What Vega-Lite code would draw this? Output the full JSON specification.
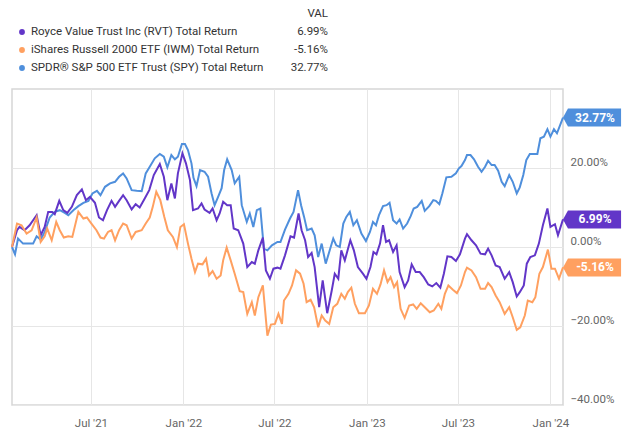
{
  "$schema": "https://vega.github.io/schema/vega-lite/v6.json",
  "padding": {"left": 7, "top": 5, "right": 0, "bottom": 0},
  "spacing": 11,
  "config": {
    "font": "Roboto",
    "view": {"stroke": null},
    "axis": {"labelFont": "Roboto", "titleFont": "Roboto"},
    "text": {"font": "Roboto"}
  },
  "datasets": {
    "ends": [
      {"series": "RVT", "name": "Royce Value Trust Inc (RVT) Total Return", "date": "2024-01-26", "value": 6.99, "label": "6.99%"},
      {"series": "IWM", "name": "iShares Russell 2000 ETF (IWM) Total Return", "date": "2024-01-26", "value": -5.16, "label": "-5.16%"},
      {"series": "SPY", "name": "SPDR® S&P 500 ETF Trust (SPY) Total Return", "date": "2024-01-26", "value": 32.77, "label": "32.77%"}
    ],
    "series": [
      {"series":"SPY","date":"2021-01-25","value":0},
      {"series":"SPY","date":"2021-01-31","value":-1.85},
      {"series":"SPY","date":"2021-02-06","value":2.13},
      {"series":"SPY","date":"2021-02-16","value":0.86},
      {"series":"SPY","date":"2021-02-26","value":0.86},
      {"series":"SPY","date":"2021-03-08","value":0.86},
      {"series":"SPY","date":"2021-03-15","value":2.72},
      {"series":"SPY","date":"2021-03-23","value":1.88},
      {"series":"SPY","date":"2021-03-31","value":3.81},
      {"series":"SPY","date":"2021-04-10","value":7.47},
      {"series":"SPY","date":"2021-04-20","value":8.89},
      {"series":"SPY","date":"2021-04-30","value":9.32},
      {"series":"SPY","date":"2021-05-10","value":8.64},
      {"series":"SPY","date":"2021-05-17","value":8.05},
      {"series":"SPY","date":"2021-05-27","value":9.32},
      {"series":"SPY","date":"2021-06-06","value":10.34},
      {"series":"SPY","date":"2021-06-16","value":11.18},
      {"series":"SPY","date":"2021-06-26","value":11.68},
      {"series":"SPY","date":"2021-07-04","value":13.56},
      {"series":"SPY","date":"2021-07-13","value":14.22},
      {"series":"SPY","date":"2021-07-20","value":13.13},
      {"series":"SPY","date":"2021-07-29","value":15.24},
      {"series":"SPY","date":"2021-08-08","value":16.1},
      {"series":"SPY","date":"2021-08-18","value":16.51},
      {"series":"SPY","date":"2021-08-26","value":17.78},
      {"series":"SPY","date":"2021-09-03","value":18.64},
      {"series":"SPY","date":"2021-09-10","value":17.37},
      {"series":"SPY","date":"2021-09-20","value":14.4},
      {"series":"SPY","date":"2021-09-30","value":14.22},
      {"series":"SPY","date":"2021-10-10","value":14.15},
      {"series":"SPY","date":"2021-10-18","value":18.64},
      {"series":"SPY","date":"2021-10-26","value":20.32},
      {"series":"SPY","date":"2021-11-05","value":22.45},
      {"series":"SPY","date":"2021-11-15","value":23.55},
      {"series":"SPY","date":"2021-11-23","value":22.86},
      {"series":"SPY","date":"2021-11-30","value":20.17},
      {"series":"SPY","date":"2021-12-08","value":23.29},
      {"series":"SPY","date":"2021-12-15","value":22.2},
      {"series":"SPY","date":"2021-12-21","value":22.86},
      {"series":"SPY","date":"2021-12-29","value":26.09},
      {"series":"SPY","date":"2022-01-04","value":26.09},
      {"series":"SPY","date":"2022-01-10","value":24.56},
      {"series":"SPY","date":"2022-01-17","value":21.18},
      {"series":"SPY","date":"2022-01-21","value":17.5},
      {"series":"SPY","date":"2022-01-27","value":15.42},
      {"series":"SPY","date":"2022-02-03","value":19.48},
      {"series":"SPY","date":"2022-02-12","value":19.05},
      {"series":"SPY","date":"2022-02-19","value":17.78},
      {"series":"SPY","date":"2022-02-26","value":13.56},
      {"series":"SPY","date":"2022-03-04","value":10.59},
      {"series":"SPY","date":"2022-03-11","value":12.7},
      {"series":"SPY","date":"2022-03-18","value":14.9},
      {"series":"SPY","date":"2022-03-23","value":19.48},
      {"series":"SPY","date":"2022-03-29","value":22.2},
      {"series":"SPY","date":"2022-04-07","value":19.48},
      {"series":"SPY","date":"2022-04-13","value":16.1},
      {"series":"SPY","date":"2022-04-22","value":17.78},
      {"series":"SPY","date":"2022-04-27","value":10.59},
      {"series":"SPY","date":"2022-05-07","value":6.35},
      {"series":"SPY","date":"2022-05-13","value":8.48},
      {"series":"SPY","date":"2022-05-20","value":5.08},
      {"series":"SPY","date":"2022-05-27","value":9.32},
      {"series":"SPY","date":"2022-06-03","value":9.75},
      {"series":"SPY","date":"2022-06-10","value":-0.41},
      {"series":"SPY","date":"2022-06-17","value":-0.84},
      {"series":"SPY","date":"2022-06-26","value":0.43},
      {"series":"SPY","date":"2022-07-07","value":1.27},
      {"series":"SPY","date":"2022-07-13","value":1.27},
      {"series":"SPY","date":"2022-07-22","value":4.42},
      {"series":"SPY","date":"2022-08-01","value":7.21},
      {"series":"SPY","date":"2022-08-08","value":8.89},
      {"series":"SPY","date":"2022-08-17","value":14.4},
      {"series":"SPY","date":"2022-08-23","value":10.59},
      {"series":"SPY","date":"2022-08-29","value":7.62},
      {"series":"SPY","date":"2022-09-04","value":4.24},
      {"series":"SPY","date":"2022-09-13","value":4.67},
      {"series":"SPY","date":"2022-09-19","value":2.97},
      {"series":"SPY","date":"2022-09-26","value":-2.54},
      {"series":"SPY","date":"2022-10-03","value":0.86},
      {"series":"SPY","date":"2022-10-11","value":-4.22},
      {"series":"SPY","date":"2022-10-19","value":-0.84},
      {"series":"SPY","date":"2022-10-26","value":2.13},
      {"series":"SPY","date":"2022-11-01","value":0.43},
      {"series":"SPY","date":"2022-11-08","value":0},
      {"series":"SPY","date":"2022-11-15","value":5.94},
      {"series":"SPY","date":"2022-11-21","value":7.62},
      {"series":"SPY","date":"2022-11-28","value":8.89},
      {"series":"SPY","date":"2022-12-05","value":5.51},
      {"series":"SPY","date":"2022-12-12","value":6.78},
      {"series":"SPY","date":"2022-12-21","value":3.4},
      {"series":"SPY","date":"2022-12-30","value":1.52},
      {"series":"SPY","date":"2023-01-07","value":3.81},
      {"series":"SPY","date":"2023-01-13","value":6.35},
      {"series":"SPY","date":"2023-01-19","value":5.51},
      {"series":"SPY","date":"2023-01-25","value":8.05},
      {"series":"SPY","date":"2023-02-02","value":10.34},
      {"series":"SPY","date":"2023-02-09","value":10.59},
      {"series":"SPY","date":"2023-02-15","value":11.18},
      {"series":"SPY","date":"2023-02-22","value":6.78},
      {"series":"SPY","date":"2023-03-01","value":5.94},
      {"series":"SPY","date":"2023-03-07","value":6.96},
      {"series":"SPY","date":"2023-03-14","value":4.67},
      {"series":"SPY","date":"2023-03-22","value":5.94},
      {"series":"SPY","date":"2023-03-29","value":7.8},
      {"series":"SPY","date":"2023-04-04","value":9.75},
      {"series":"SPY","date":"2023-04-11","value":10.16},
      {"series":"SPY","date":"2023-04-20","value":11.68},
      {"series":"SPY","date":"2023-04-26","value":9.14},
      {"series":"SPY","date":"2023-05-05","value":10.34},
      {"series":"SPY","date":"2023-05-13","value":11.86},
      {"series":"SPY","date":"2023-05-18","value":11.68},
      {"series":"SPY","date":"2023-05-25","value":10.85},
      {"series":"SPY","date":"2023-05-31","value":13.56},
      {"series":"SPY","date":"2023-06-08","value":17.63},
      {"series":"SPY","date":"2023-06-18","value":17.78},
      {"series":"SPY","date":"2023-06-27","value":18.64},
      {"series":"SPY","date":"2023-07-03","value":19.91},
      {"series":"SPY","date":"2023-07-08","value":20.5},
      {"series":"SPY","date":"2023-07-15","value":22.02},
      {"series":"SPY","date":"2023-07-19","value":23.29},
      {"series":"SPY","date":"2023-07-26","value":23.29},
      {"series":"SPY","date":"2023-08-02","value":22.2},
      {"series":"SPY","date":"2023-08-10","value":20.32},
      {"series":"SPY","date":"2023-08-17","value":19.05},
      {"series":"SPY","date":"2023-08-24","value":20.32},
      {"series":"SPY","date":"2023-08-30","value":21.84},
      {"series":"SPY","date":"2023-09-06","value":20.75},
      {"series":"SPY","date":"2023-09-12","value":20.75},
      {"series":"SPY","date":"2023-09-19","value":19.3},
      {"series":"SPY","date":"2023-09-26","value":16.51},
      {"series":"SPY","date":"2023-10-02","value":15.42},
      {"series":"SPY","date":"2023-10-11","value":18.21},
      {"series":"SPY","date":"2023-10-18","value":16.51},
      {"series":"SPY","date":"2023-10-26","value":13.56},
      {"series":"SPY","date":"2023-11-01","value":15.09},
      {"series":"SPY","date":"2023-11-08","value":18.21},
      {"series":"SPY","date":"2023-11-14","value":22.02},
      {"series":"SPY","date":"2023-11-21","value":23.55},
      {"series":"SPY","date":"2023-11-29","value":23.55},
      {"series":"SPY","date":"2023-12-06","value":23.55},
      {"series":"SPY","date":"2023-12-12","value":27.53},
      {"series":"SPY","date":"2023-12-19","value":27.94},
      {"series":"SPY","date":"2023-12-26","value":29.82},
      {"series":"SPY","date":"2024-01-01","value":27.94},
      {"series":"SPY","date":"2024-01-08","value":29.82},
      {"series":"SPY","date":"2024-01-14","value":28.8},
      {"series":"SPY","date":"2024-01-26","value":32.77},

      {"series":"RVT","date":"2021-01-25","value":0},
      {"series":"RVT","date":"2021-02-04","value":4.24},
      {"series":"RVT","date":"2021-02-09","value":5.08},
      {"series":"RVT","date":"2021-02-19","value":4.24},
      {"series":"RVT","date":"2021-03-01","value":5.51},
      {"series":"RVT","date":"2021-03-15","value":8.05},
      {"series":"RVT","date":"2021-03-23","value":2.97},
      {"series":"RVT","date":"2021-03-31","value":5.08},
      {"series":"RVT","date":"2021-04-07","value":8.89},
      {"series":"RVT","date":"2021-04-15","value":8.89},
      {"series":"RVT","date":"2021-04-20","value":8.31},
      {"series":"RVT","date":"2021-04-29","value":11.68},
      {"series":"RVT","date":"2021-05-07","value":9.32},
      {"series":"RVT","date":"2021-05-15","value":8.64},
      {"series":"RVT","date":"2021-05-24","value":10.16},
      {"series":"RVT","date":"2021-06-03","value":13.13},
      {"series":"RVT","date":"2021-06-13","value":14.58},
      {"series":"RVT","date":"2021-06-21","value":11.86},
      {"series":"RVT","date":"2021-06-29","value":12.7},
      {"series":"RVT","date":"2021-07-09","value":11.18},
      {"series":"RVT","date":"2021-07-17","value":7.47},
      {"series":"RVT","date":"2021-07-25","value":6.78},
      {"series":"RVT","date":"2021-08-02","value":9.32},
      {"series":"RVT","date":"2021-08-11","value":11.68},
      {"series":"RVT","date":"2021-08-18","value":10.16},
      {"series":"RVT","date":"2021-08-26","value":11.68},
      {"series":"RVT","date":"2021-09-03","value":13.13},
      {"series":"RVT","date":"2021-09-10","value":11.86},
      {"series":"RVT","date":"2021-09-20","value":9.5},
      {"series":"RVT","date":"2021-09-28","value":10.85},
      {"series":"RVT","date":"2021-10-06","value":10.0},
      {"series":"RVT","date":"2021-10-16","value":12.29},
      {"series":"RVT","date":"2021-10-25","value":14.4},
      {"series":"RVT","date":"2021-11-03","value":18.21},
      {"series":"RVT","date":"2021-11-15","value":21.0},
      {"series":"RVT","date":"2021-11-23","value":17.78},
      {"series":"RVT","date":"2021-11-30","value":11.86},
      {"series":"RVT","date":"2021-12-08","value":16.1},
      {"series":"RVT","date":"2021-12-15","value":12.29},
      {"series":"RVT","date":"2021-12-21","value":18.64},
      {"series":"RVT","date":"2021-12-30","value":23.72},
      {"series":"RVT","date":"2022-01-06","value":21.18},
      {"series":"RVT","date":"2022-01-14","value":16.94},
      {"series":"RVT","date":"2022-01-20","value":9.32},
      {"series":"RVT","date":"2022-01-30","value":9.75},
      {"series":"RVT","date":"2022-02-06","value":11.02},
      {"series":"RVT","date":"2022-02-12","value":9.5},
      {"series":"RVT","date":"2022-02-22","value":8.64},
      {"series":"RVT","date":"2022-02-28","value":9.75},
      {"series":"RVT","date":"2022-03-08","value":6.78},
      {"series":"RVT","date":"2022-03-14","value":8.48},
      {"series":"RVT","date":"2022-03-21","value":11.43},
      {"series":"RVT","date":"2022-03-29","value":10.59},
      {"series":"RVT","date":"2022-04-05","value":10.59},
      {"series":"RVT","date":"2022-04-11","value":4.67},
      {"series":"RVT","date":"2022-04-20","value":4.24},
      {"series":"RVT","date":"2022-04-30","value":0.86},
      {"series":"RVT","date":"2022-05-08","value":-5.08},
      {"series":"RVT","date":"2022-05-17","value":-3.81},
      {"series":"RVT","date":"2022-05-23","value":-4.22},
      {"series":"RVT","date":"2022-05-30","value":-0.84},
      {"series":"RVT","date":"2022-06-08","value":2.39},
      {"series":"RVT","date":"2022-06-14","value":-5.92},
      {"series":"RVT","date":"2022-06-22","value":-8.03},
      {"series":"RVT","date":"2022-06-29","value":-5.49},
      {"series":"RVT","date":"2022-07-07","value":-5.23},
      {"series":"RVT","date":"2022-07-13","value":-5.49},
      {"series":"RVT","date":"2022-07-22","value":-2.11},
      {"series":"RVT","date":"2022-08-02","value":2.72},
      {"series":"RVT","date":"2022-08-09","value":2.39},
      {"series":"RVT","date":"2022-08-18","value":8.48},
      {"series":"RVT","date":"2022-08-24","value":4.24},
      {"series":"RVT","date":"2022-08-31","value":1.7},
      {"series":"RVT","date":"2022-09-06","value":-2.54},
      {"series":"RVT","date":"2022-09-13","value":-1.52},
      {"series":"RVT","date":"2022-09-19","value":-5.08},
      {"series":"RVT","date":"2022-09-28","value":-15.24},
      {"series":"RVT","date":"2022-10-05","value":-8.46},
      {"series":"RVT","date":"2022-10-14","value":-16.76},
      {"series":"RVT","date":"2022-10-23","value":-11.0},
      {"series":"RVT","date":"2022-10-29","value":-6.76},
      {"series":"RVT","date":"2022-11-05","value":-8.03},
      {"series":"RVT","date":"2022-11-11","value":-0.84},
      {"series":"RVT","date":"2022-11-18","value":-3.38},
      {"series":"RVT","date":"2022-11-29","value":1.7},
      {"series":"RVT","date":"2022-12-06","value":-0.84},
      {"series":"RVT","date":"2022-12-14","value":-5.08},
      {"series":"RVT","date":"2022-12-24","value":-6.76},
      {"series":"RVT","date":"2022-12-31","value":-8.03},
      {"series":"RVT","date":"2023-01-08","value":-5.08},
      {"series":"RVT","date":"2023-01-14","value":-1.27},
      {"series":"RVT","date":"2023-01-20","value":-1.85},
      {"series":"RVT","date":"2023-01-27","value":0.86},
      {"series":"RVT","date":"2023-02-02","value":5.51},
      {"series":"RVT","date":"2023-02-08","value":1.27},
      {"series":"RVT","date":"2023-02-14","value":1.7},
      {"series":"RVT","date":"2023-02-22","value":-1.27},
      {"series":"RVT","date":"2023-03-01","value":0.43},
      {"series":"RVT","date":"2023-03-07","value":-6.35},
      {"series":"RVT","date":"2023-03-17","value":-10.16},
      {"series":"RVT","date":"2023-03-24","value":-8.46},
      {"series":"RVT","date":"2023-03-31","value":-4.39},
      {"series":"RVT","date":"2023-04-08","value":-6.35},
      {"series":"RVT","date":"2023-04-16","value":-6.35},
      {"series":"RVT","date":"2023-04-24","value":-7.62},
      {"series":"RVT","date":"2023-05-03","value":-9.47},
      {"series":"RVT","date":"2023-05-11","value":-9.98},
      {"series":"RVT","date":"2023-05-19","value":-9.14},
      {"series":"RVT","date":"2023-05-27","value":-10.31},
      {"series":"RVT","date":"2023-06-03","value":-6.76},
      {"series":"RVT","date":"2023-06-10","value":-2.36},
      {"series":"RVT","date":"2023-06-18","value":-2.54},
      {"series":"RVT","date":"2023-06-27","value":-3.56},
      {"series":"RVT","date":"2023-07-05","value":-1.85},
      {"series":"RVT","date":"2023-07-15","value":2.13},
      {"series":"RVT","date":"2023-07-19","value":3.23},
      {"series":"RVT","date":"2023-07-28","value":1.7},
      {"series":"RVT","date":"2023-08-06","value":0.43},
      {"series":"RVT","date":"2023-08-15","value":-1.68},
      {"series":"RVT","date":"2023-08-24","value":-1.85},
      {"series":"RVT","date":"2023-08-30","value":-0.41},
      {"series":"RVT","date":"2023-09-06","value":-2.11},
      {"series":"RVT","date":"2023-09-14","value":-4.65},
      {"series":"RVT","date":"2023-09-22","value":-5.08},
      {"series":"RVT","date":"2023-10-02","value":-8.03},
      {"series":"RVT","date":"2023-10-11","value":-6.35},
      {"series":"RVT","date":"2023-10-18","value":-8.89},
      {"series":"RVT","date":"2023-10-26","value":-12.52},
      {"series":"RVT","date":"2023-11-01","value":-11.43},
      {"series":"RVT","date":"2023-11-09","value":-9.73},
      {"series":"RVT","date":"2023-11-15","value":-4.22},
      {"series":"RVT","date":"2023-11-22","value":-2.54},
      {"series":"RVT","date":"2023-12-01","value":-2.11},
      {"series":"RVT","date":"2023-12-09","value":0.86},
      {"series":"RVT","date":"2023-12-17","value":5.51},
      {"series":"RVT","date":"2023-12-26","value":9.75},
      {"series":"RVT","date":"2024-01-01","value":5.08},
      {"series":"RVT","date":"2024-01-10","value":5.77},
      {"series":"RVT","date":"2024-01-16","value":2.97},
      {"series":"RVT","date":"2024-01-26","value":6.99},

      {"series":"IWM","date":"2021-01-25","value":0},
      {"series":"IWM","date":"2021-02-04","value":5.94},
      {"series":"IWM","date":"2021-02-13","value":5.51},
      {"series":"IWM","date":"2021-02-23","value":3.4},
      {"series":"IWM","date":"2021-03-05","value":4.24},
      {"series":"IWM","date":"2021-03-15","value":7.47},
      {"series":"IWM","date":"2021-03-23","value":1.27},
      {"series":"IWM","date":"2021-03-31","value":2.72},
      {"series":"IWM","date":"2021-04-05","value":4.67},
      {"series":"IWM","date":"2021-04-14","value":1.7},
      {"series":"IWM","date":"2021-04-23","value":6.35},
      {"series":"IWM","date":"2021-04-30","value":4.24},
      {"series":"IWM","date":"2021-05-08","value":2.39},
      {"series":"IWM","date":"2021-05-17","value":2.72},
      {"series":"IWM","date":"2021-05-25","value":2.54},
      {"series":"IWM","date":"2021-06-06","value":8.89},
      {"series":"IWM","date":"2021-06-16","value":7.21},
      {"series":"IWM","date":"2021-06-23","value":7.47},
      {"series":"IWM","date":"2021-07-02","value":5.94},
      {"series":"IWM","date":"2021-07-12","value":4.24},
      {"series":"IWM","date":"2021-07-20","value":2.39},
      {"series":"IWM","date":"2021-07-27","value":2.13},
      {"series":"IWM","date":"2021-08-04","value":3.81},
      {"series":"IWM","date":"2021-08-11","value":4.24},
      {"series":"IWM","date":"2021-08-18","value":1.7},
      {"series":"IWM","date":"2021-08-26","value":4.24},
      {"series":"IWM","date":"2021-09-03","value":5.94},
      {"series":"IWM","date":"2021-09-10","value":5.51},
      {"series":"IWM","date":"2021-09-20","value":2.13},
      {"series":"IWM","date":"2021-09-28","value":3.81},
      {"series":"IWM","date":"2021-10-10","value":4.24},
      {"series":"IWM","date":"2021-10-18","value":5.94},
      {"series":"IWM","date":"2021-10-26","value":7.47},
      {"series":"IWM","date":"2021-11-01","value":10.16},
      {"series":"IWM","date":"2021-11-08","value":13.97},
      {"series":"IWM","date":"2021-11-16","value":11.86},
      {"series":"IWM","date":"2021-11-24","value":7.62},
      {"series":"IWM","date":"2021-12-01","value":4.24},
      {"series":"IWM","date":"2021-12-11","value":2.54},
      {"series":"IWM","date":"2021-12-19","value":0},
      {"series":"IWM","date":"2021-12-26","value":5.08},
      {"series":"IWM","date":"2022-01-02","value":5.77},
      {"series":"IWM","date":"2022-01-10","value":0.86},
      {"series":"IWM","date":"2022-01-17","value":-2.95},
      {"series":"IWM","date":"2022-01-24","value":-6.35},
      {"series":"IWM","date":"2022-01-30","value":-4.22},
      {"series":"IWM","date":"2022-02-08","value":-4.39},
      {"series":"IWM","date":"2022-02-15","value":-2.95},
      {"series":"IWM","date":"2022-02-21","value":-7.19},
      {"series":"IWM","date":"2022-02-28","value":-6.1},
      {"series":"IWM","date":"2022-03-08","value":-8.03},
      {"series":"IWM","date":"2022-03-16","value":-7.19},
      {"series":"IWM","date":"2022-03-21","value":-3.38},
      {"series":"IWM","date":"2022-03-28","value":-0.15},
      {"series":"IWM","date":"2022-04-05","value":-3.38},
      {"series":"IWM","date":"2022-04-13","value":-6.76},
      {"series":"IWM","date":"2022-04-23","value":-11.18},
      {"series":"IWM","date":"2022-04-30","value":-11.43},
      {"series":"IWM","date":"2022-05-08","value":-16.92},
      {"series":"IWM","date":"2022-05-17","value":-13.97},
      {"series":"IWM","date":"2022-05-23","value":-17.35},
      {"series":"IWM","date":"2022-05-30","value":-12.7},
      {"series":"IWM","date":"2022-06-08","value":-9.73},
      {"series":"IWM","date":"2022-06-17","value":-22.43},
      {"series":"IWM","date":"2022-06-24","value":-19.63},
      {"series":"IWM","date":"2022-07-02","value":-19.46},
      {"series":"IWM","date":"2022-07-09","value":-16.92},
      {"series":"IWM","date":"2022-07-16","value":-19.46},
      {"series":"IWM","date":"2022-07-20","value":-13.54},
      {"series":"IWM","date":"2022-07-29","value":-11.84},
      {"series":"IWM","date":"2022-08-05","value":-9.73},
      {"series":"IWM","date":"2022-08-13","value":-5.92},
      {"series":"IWM","date":"2022-08-21","value":-6.76},
      {"series":"IWM","date":"2022-08-28","value":-9.3},
      {"series":"IWM","date":"2022-09-03","value":-13.97},
      {"series":"IWM","date":"2022-09-11","value":-13.36},
      {"series":"IWM","date":"2022-09-18","value":-15.24},
      {"series":"IWM","date":"2022-09-26","value":-20.32},
      {"series":"IWM","date":"2022-10-03","value":-17.35},
      {"series":"IWM","date":"2022-10-10","value":-18.62},
      {"series":"IWM","date":"2022-10-18","value":-19.46},
      {"series":"IWM","date":"2022-10-26","value":-15.24},
      {"series":"IWM","date":"2022-11-03","value":-14.38},
      {"series":"IWM","date":"2022-11-11","value":-11.84},
      {"series":"IWM","date":"2022-11-18","value":-13.11},
      {"series":"IWM","date":"2022-11-24","value":-11.43},
      {"series":"IWM","date":"2022-12-01","value":-10.31},
      {"series":"IWM","date":"2022-12-08","value":-14.38},
      {"series":"IWM","date":"2022-12-16","value":-16.76},
      {"series":"IWM","date":"2022-12-28","value":-16.76},
      {"series":"IWM","date":"2023-01-05","value":-14.81},
      {"series":"IWM","date":"2023-01-13","value":-10.57},
      {"series":"IWM","date":"2023-01-21","value":-11.84},
      {"series":"IWM","date":"2023-01-28","value":-9.47},
      {"series":"IWM","date":"2023-02-04","value":-5.92},
      {"series":"IWM","date":"2023-02-11","value":-8.89},
      {"series":"IWM","date":"2023-02-17","value":-7.62},
      {"series":"IWM","date":"2023-02-24","value":-10.16},
      {"series":"IWM","date":"2023-03-02","value":-8.89},
      {"series":"IWM","date":"2023-03-09","value":-15.65},
      {"series":"IWM","date":"2023-03-17","value":-17.93},
      {"series":"IWM","date":"2023-03-26","value":-14.81},
      {"series":"IWM","date":"2023-04-03","value":-14.55},
      {"series":"IWM","date":"2023-04-10","value":-15.65},
      {"series":"IWM","date":"2023-04-18","value":-14.22},
      {"series":"IWM","date":"2023-04-26","value":-15.24},
      {"series":"IWM","date":"2023-05-06","value":-16.51},
      {"series":"IWM","date":"2023-05-14","value":-16.08},
      {"series":"IWM","date":"2023-05-23","value":-14.38},
      {"series":"IWM","date":"2023-05-29","value":-15.65},
      {"series":"IWM","date":"2023-06-05","value":-11.84},
      {"series":"IWM","date":"2023-06-12","value":-9.73},
      {"series":"IWM","date":"2023-06-21","value":-10.82},
      {"series":"IWM","date":"2023-06-29","value":-11.68},
      {"series":"IWM","date":"2023-07-07","value":-9.73},
      {"series":"IWM","date":"2023-07-15","value":-6.35},
      {"series":"IWM","date":"2023-07-19","value":-5.23},
      {"series":"IWM","date":"2023-07-28","value":-5.92},
      {"series":"IWM","date":"2023-08-06","value":-7.62},
      {"series":"IWM","date":"2023-08-15","value":-10.57},
      {"series":"IWM","date":"2023-08-24","value":-10.57},
      {"series":"IWM","date":"2023-08-30","value":-9.14},
      {"series":"IWM","date":"2023-09-06","value":-10.16},
      {"series":"IWM","date":"2023-09-14","value":-12.27},
      {"series":"IWM","date":"2023-09-22","value":-13.97},
      {"series":"IWM","date":"2023-10-02","value":-16.92},
      {"series":"IWM","date":"2023-10-11","value":-15.24},
      {"series":"IWM","date":"2023-10-18","value":-17.78},
      {"series":"IWM","date":"2023-10-26","value":-20.98},
      {"series":"IWM","date":"2023-11-02","value":-20.32},
      {"series":"IWM","date":"2023-11-11","value":-17.35},
      {"series":"IWM","date":"2023-11-17","value":-13.54},
      {"series":"IWM","date":"2023-11-26","value":-13.97},
      {"series":"IWM","date":"2023-12-02","value":-12.7},
      {"series":"IWM","date":"2023-12-10","value":-6.76},
      {"series":"IWM","date":"2023-12-17","value":-5.08},
      {"series":"IWM","date":"2023-12-27","value":-0.66},
      {"series":"IWM","date":"2024-01-03","value":-5.49},
      {"series":"IWM","date":"2024-01-10","value":-5.49},
      {"series":"IWM","date":"2024-01-18","value":-8.03},
      {"series":"IWM","date":"2024-01-26","value":-5.16}
    ]
  },
  "vconcat": [
    {
      "width": 551,
      "height": 72,
      "data": {"name": "ends"},
      "encoding": {
        "y": {"field": "series", "type": "nominal", "axis": null,
              "scale": {"type": "point", "domain": ["hdr", "RVT", "IWM", "SPY"], "padding": 0.5}}
      },
      "layer": [
        {
          "mark": {"type": "point", "filled": true, "size": 34, "opacity": 1, "xOffset": -9},
          "encoding": {
            "x": {"datum": "name", "type": "nominal", "bandPosition": 0, "axis": null,
                  "scale": {"type": "band", "domain": ["name", "val"], "range": [19, 316], "paddingInner": 0, "paddingOuter": 0}},
            "color": {"field": "series", "type": "nominal", "legend": null,
                      "scale": {"domain": ["RVT", "IWM", "SPY"], "range": ["#6236c8", "#ffa060", "#4f8fdc"]}}
          }
        },
        {
          "mark": {"type": "text", "align": "left", "baseline": "middle", "fontSize": 11.5, "color": "#333333"},
          "encoding": {
            "x": {"datum": "name", "type": "nominal", "bandPosition": 0},
            "text": {"field": "name"}
          }
        },
        {
          "mark": {"type": "text", "align": "right", "baseline": "middle", "fontSize": 11.5, "color": "#333333"},
          "encoding": {
            "x": {"datum": "val", "type": "nominal", "bandPosition": 1},
            "text": {"field": "label"}
          }
        },
        {
          "data": {"values": [{"series": "hdr", "t": "VAL"}]},
          "mark": {"type": "text", "align": "right", "baseline": "middle", "fontSize": 11.5, "color": "#333333"},
          "encoding": {
            "x": {"datum": "val", "type": "nominal", "bandPosition": 1},
            "text": {"field": "t"}
          }
        }
      ]
    },
    {
      "width": 551,
      "height": 316,
      "view": {"stroke": "#d6d6d6", "strokeWidth": 1.5},
      "encoding": {
        "x": {
          "field": "date", "type": "temporal",
          "scale": {"type": "utc", "domain": [{"year": 2021, "month": 1, "date": 25, "utc": true}, {"year": 2024, "month": 1, "date": 26, "utc": true}]},
          "axis": {
            "title": null, "format": "%b '%y", "domain": false, "ticks": false,
            "grid": true, "gridColor": "#e6e6e6", "gridWidth": 1,
            "labelColor": "#666666", "labelFontSize": 11.5, "labelPadding": 12,
            "values": [
              {"year": 2021, "month": 7, "date": 1, "utc": true},
              {"year": 2022, "month": 1, "date": 1, "utc": true},
              {"year": 2022, "month": 7, "date": 1, "utc": true},
              {"year": 2023, "month": 1, "date": 1, "utc": true},
              {"year": 2023, "month": 7, "date": 1, "utc": true},
              {"year": 2024, "month": 1, "date": 1, "utc": true}
            ]
          }
        },
        "y": {
          "field": "value", "type": "quantitative",
          "scale": {"domain": [-40, 40], "nice": false, "zero": false},
          "axis": {
            "title": null, "orient": "right", "domain": false, "ticks": false,
            "grid": true, "gridColor": "#e6e6e6", "gridWidth": 1,
            "values": [-40, -20, 0, 20],
            "labelExpr": "format(datum.value, '.2f') + '%'",
            "labelColor": "#666666", "labelFontSize": 11.5, "labelPadding": 7,
            "labelBaseline": "bottom", "labelOffset": -1
          }
        },
        "color": {"field": "series", "type": "nominal", "legend": null,
                  "scale": {"domain": ["RVT", "IWM", "SPY"], "range": ["#6236c8", "#ffa060", "#4f8fdc"]}}
      },
      "layer": [
        {
          "data": {"name": "series"},
          "mark": {"type": "line", "strokeWidth": 2, "interpolate": "linear"}
        },
        {
          "data": {"name": "ends"},
          "mark": {"type": "point", "shape": "M0,0L0.55,-1L6.45,-1L6.45,1L0.55,1Z", "size": 324, "filled": true, "opacity": 1, "strokeWidth": 0}
        },
        {
          "data": {"name": "ends"},
          "mark": {"type": "text", "align": "center", "baseline": "middle", "dx": 32, "fontSize": 12, "fontWeight": "bold", "color": "white"},
          "encoding": {"text": {"field": "label"}, "color": {"value": "white"}}
        }
      ]
    }
  ]
}
